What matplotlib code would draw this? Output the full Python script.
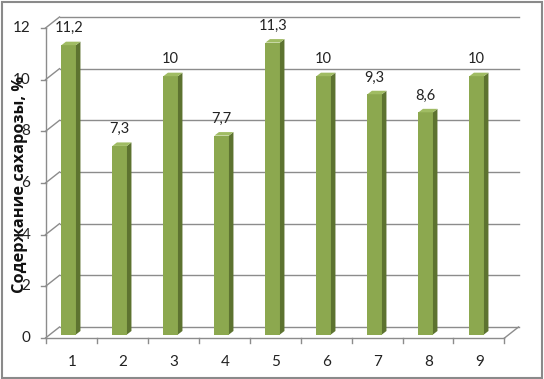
import matplotlib.pyplot as plt
from matplotlib.patches import Polygon, Rectangle
import numpy as np

# data
categories = ["1", "2", "3", "4", "5", "6", "7", "8", "9"]
values = [11.2, 7.3, 10, 7.7, 11.3, 10, 9.3, 8.6, 10]
value_labels = ["11,2", "7,3", "10", "7,7", "11,3", "10", "9,3", "8,6", "10"]
yticks = [0, 2, 4, 6, 8, 10, 12]
ylabel = "Содержание сахарозы, %"

W, H = 544, 379
fig = plt.figure(figsize=(W / 100, H / 100), dpi=100)
fig.patch.set_facecolor("white")

# back wall of the 3d box, in pixels
bx0, bx1, by0, by1 = 59.5, 518.5, 327, 17
ax = fig.add_axes([bx0 / W, (H - by0) / H, (bx1 - bx0) / W, (by0 - by1) / H])
ax.set_xlim(0.5, 9.5)
ax.set_ylim(0, 12)
ax.axis("off")

pxx = (bx1 - bx0) / 9.0   # px per x unit
pxy = (by0 - by1) / 12.0  # px per y unit

# depth offsets (front plane, bar plane), in data units
fdx, fdy = -14 / pxx, -11 / pxy
bdx, bdy = -16.3 / pxx, -7.5 / pxy
bw = 14.5 / pxx
sdx, sdy = 4.5 / pxx, 3.5 / pxy

grid_c = "#8c8c8c"
x = np.arange(1, len(categories) + 1)

# gridlines + side wall diagonals
for v in yticks:
    ax.plot([0.5, 9.5], [v, v], color=grid_c, lw=1, zorder=1, clip_on=False)
    ax.plot([0.5 + fdx, 0.5], [v + fdy, v], color=grid_c, lw=1, zorder=1, clip_on=False)
    ax.plot([0.5 + fdx - 5 / pxx, 0.5 + fdx], [v + fdy, v + fdy], color=grid_c, lw=1, clip_on=False)
    ax.text(0.5 + fdx - 15 / pxx, v + fdy, str(v), ha="right", va="center",
            fontsize=11, family=["Lato", "DejaVu Sans"], color="#222222", clip_on=False)

# front axis + floor
ax.plot([0.5 + fdx, 0.5 + fdx], [fdy, 12 + fdy], color=grid_c, lw=1, clip_on=False)
ax.plot([0.5 + fdx, 9.5 + fdx], [fdy, fdy], color=grid_c, lw=1, clip_on=False)
ax.plot([9.5 + fdx, 9.5], [fdy, 0], color=grid_c, lw=1, clip_on=False)
for b in np.arange(0.5, 10, 1.0):
    ax.plot([b + fdx, b + fdx], [fdy, fdy - 5 / pxy], color=grid_c, lw=1, clip_on=False)
for xi, c in zip(x, categories):
    ax.text(xi + fdx + 1 / pxx, fdy - 24 / pxy, c, ha="center", va="center",
            fontsize=11, family=["Lato", "DejaVu Sans"], color="#222222", clip_on=False)

# bars
front_c, side_c, top_c = "#8ca84f", "#5d7330", "#a0bc63"
ax.bar(x + bdx, values, width=bw, bottom=bdy, color=front_c, zorder=3, clip_on=False)
for xi, v, lab in zip(x, values, value_labels):
    xl = xi + bdx - bw / 2
    xr = xi + bdx + bw / 2
    b, t = bdy, v + bdy
    ax.add_patch(Polygon([(xr, b), (xr + sdx, b + sdy), (xr + sdx, t + sdy), (xr, t)],
                         closed=True, facecolor=side_c, edgecolor="none", zorder=3, clip_on=False))
    ax.add_patch(Polygon([(xl, t), (xl + sdx, t + sdy), (xr + sdx, t + sdy), (xr, t)],
                         closed=True, facecolor=top_c, edgecolor="none", zorder=3, clip_on=False))
    ax.annotate(lab, (xi + bdx, t), xytext=(0, 9.2), textcoords="offset points",
                ha="center", va="baseline", fontsize=10.5, family=["Lato", "DejaVu Sans"],
                color="#222222", zorder=4)

fig.text(20 / W, (H - 184) / H, ylabel, rotation=90, ha="center", va="center",
         fontsize=11.8, fontweight="bold", family=["Open Sans", "DejaVu Sans"], color="#111111")

fig.patches.append(Rectangle((1.5 / W, 1.5 / H), (W - 3.5) / W, (H - 3.5) / H,
                             transform=fig.transFigure, fill=False,
                             edgecolor="#8a8a8a", lw=1.5))

fig.savefig("out.png", dpi=100)
